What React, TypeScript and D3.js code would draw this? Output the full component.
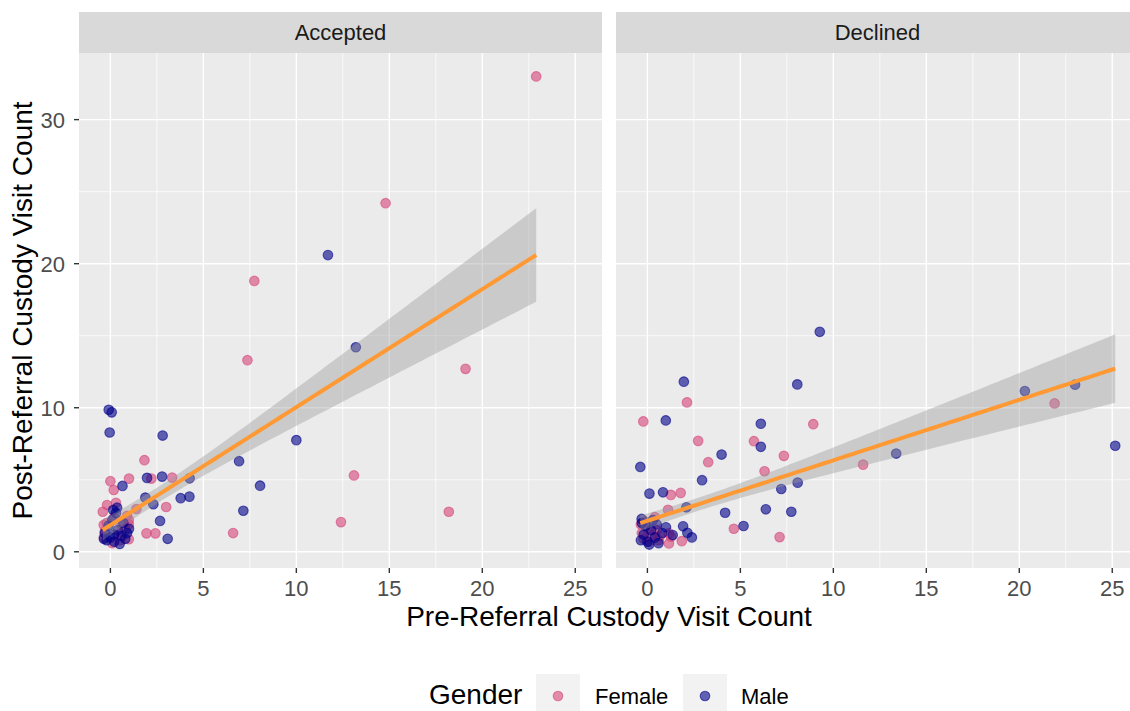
import React from "react";
import * as d3 from "d3";

// ---------------- DATA ----------------
const facets = ["Accepted", "Declined"];
const genders = ["Female", "Male"];

// Accepted – Female
const accFemaleX = [22.9, 14.8, 7.74, 7.37, 19.1, 13.1, 12.4, 18.2, 6.6, 1.83, 0.0, 1.0, 0.18, 2.2, 3.32, 3.0, 1.4, 1.94, 2.42, -0.18, -0.41, -0.36, 0.99, 0.99, 0.99, 0.54, -0.3, 0.2, -0.2, 0.4, 0.8, -0.35, 0.1, 0.9, 0.3, 0.6];
const accFemaleY = [33.0, 24.2, 18.8, 13.3, 12.7, 5.3, 2.06, 2.78, 1.3, 6.36, 4.9, 5.08, 4.29, 5.08, 5.15, 3.11, 2.97, 1.28, 1.28, 3.25, 2.78, 1.86, 2.2, 1.9, 0.87, 0.81, 1.4, 2.4, 2.0, 1.2, 1.6, 1.0, 0.6, 2.5, 3.4, 1.9];
// Accepted – Male
const accMaleX = [11.7, 13.2, 10.0, 6.92, 8.05, 7.15, -0.09, 0.07, -0.04, 2.81, 0.65, 1.97, 2.78, 4.26, 3.78, 4.25, 1.88, 2.31, 2.67, 3.08, 0.36, -0.3, -0.2, 0.0, 0.2, 0.4, 0.6, 0.8, 1.0, 0.1, 0.3, -0.1, 0.5, 0.9, 0.2, -0.35, 0.7, 0.15];
const accMaleY = [20.6, 14.2, 7.75, 6.29, 4.59, 2.85, 9.86, 9.68, 8.28, 8.07, 4.57, 5.13, 5.22, 5.1, 3.72, 3.83, 3.76, 3.3, 2.14, 0.9, 3.06, 1.3, 0.8, 1.0, 0.7, 1.5, 1.1, 0.9, 1.6, 2.2, 2.7, 1.8, 0.55, 1.3, 1.2, 0.9, 2.0, 2.9];
// Declined – Female
const decFemaleX = [21.9, 11.6, 2.13, -0.22, 8.92, 2.73, 5.73, 7.34, 3.27, 6.3, 1.26, 1.79, 1.11, 4.65, 7.11, 1.85, 1.16, 1.27, 0.68, -0.3, -0.2, 0.0, 0.1, 0.3, -0.1, 0.4, 0.2, 0.6, -0.35, 0.5, 1.16];
const decFemaleY = [10.3, 6.05, 10.37, 9.05, 8.86, 7.7, 7.68, 6.66, 6.22, 5.59, 3.95, 4.09, 2.92, 1.6, 1.02, 0.74, 0.58, 1.05, 1.09, 1.3, 0.9, 1.6, 0.7, 1.2, 2.1, 2.4, 1.0, 0.8, 1.9, 1.5, 1.28];
// Declined – Male
const decMaleX = [9.27, 1.96, 8.06, 0.99, 6.1, 6.1, 3.99, -0.38, 2.94, 8.08, 7.2, 0.11, 0.84, 2.1, 4.18, 6.37, 7.74, 5.17, 1.92, 2.15, 2.39, 1.36, 20.3, 23.0, 25.16, 13.38, -0.31, -0.3, -0.2, 0.0, 0.2, 0.4, 0.6, -0.1, 0.3, 0.8, 1.0, 0.5, -0.35, 0.1];
const decMaleY = [15.27, 11.81, 11.62, 9.12, 8.89, 7.29, 6.75, 5.89, 4.97, 4.8, 4.36, 4.04, 4.13, 3.09, 2.71, 2.95, 2.78, 1.79, 1.77, 1.32, 1.0, 1.16, 11.16, 11.6, 7.36, 6.82, 2.28, 2.0, 1.2, 0.7, 1.5, 1.0, 0.6, 1.8, 2.2, 1.3, 1.7, 1.9, 0.8, 0.5];

// linear fit per facet (intercept, slope) and CI half-width model
const fitIntercept = [1.85, 2.15];
const fitSlope = [0.819, 0.42];
const ciCenterX = [2.5, 2.5];
const ciMinHalf = [0.55, 0.45];
const ciGrowth = [0.157, 0.103];

const xTicks = [0, 5, 10, 15, 20, 25];
const xMinor = [2.5, 7.5, 12.5, 17.5, 22.5];
const yTicks = [0, 10, 20, 30];
const yMinor = [5, 15, 25];

// ---------------- LAYOUT ----------------
const W = 1130;
const H = 711;
const panelW = 523;
const panelX0 = [79, 616];
const panelTop = 53;
const panelBottom = 568;
const stripTop = 12;

const colors: Record<string, string> = { Female: "#d6457a", Male: "#00008b" };
const FONT = "'Liberation Sans', Arial, Helvetica, sans-serif";
const PT_R = 4.8;

const series = [
  { facet: 0, gender: "Female", xs: accFemaleX, ys: accFemaleY },
  { facet: 0, gender: "Male", xs: accMaleX, ys: accMaleY },
  { facet: 1, gender: "Female", xs: decFemaleX, ys: decFemaleY },
  { facet: 1, gender: "Male", xs: decMaleX, ys: decMaleY },
];

function expand(ext: [number, number]): [number, number] {
  const r = ext[1] - ext[0];
  return [ext[0] - 0.05 * r, ext[1] + 0.05 * r];
}

export default function App() {
  const allX = series.flatMap((s) => s.xs);
  const allY = series.flatMap((s) => s.ys);
  const xDom = expand(d3.extent(allX) as [number, number]);
  const yDom = expand(d3.extent(allY) as [number, number]);
  const y = d3.scaleLinear().domain(yDom).range([panelBottom, panelTop]);

  return (
    <svg width={W} height={H} style={{ display: "block", position: "absolute", left: 0, top: 0 }} fontFamily={FONT}>
      <rect x={0} y={0} width={W} height={H} fill="#ffffff" />
      {facets.map((name, fi) => {
        const x0 = panelX0[fi];
        const x = d3.scaleLinear().domain(xDom).range([x0, x0 + panelW]);
        const fx = series.filter((s) => s.facet === fi).flatMap((s) => s.xs);
        const [fmin, fmax] = d3.extent(fx) as [number, number];
        const grid = d3.range(0, 81).map((i) => fmin + ((fmax - fmin) * i) / 80);
        const fit = (v: number) => fitIntercept[fi] + fitSlope[fi] * v;
        const half = (v: number) =>
          Math.sqrt(ciMinHalf[fi] ** 2 + (ciGrowth[fi] * (v - ciCenterX[fi])) ** 2);
        const area = d3
          .area<number>()
          .x((v) => x(v))
          .y0((v) => y(fit(v) - half(v)))
          .y1((v) => y(fit(v) + half(v)));
        const line = d3
          .line<number>()
          .x((v) => x(v))
          .y((v) => y(fit(v)));
        const clipId = `clip${fi}`;
        return (
          <g key={name}>
            <defs>
              <clipPath id={clipId}>
                <rect x={x0} y={panelTop} width={panelW} height={panelBottom - panelTop} />
              </clipPath>
            </defs>
            <rect x={x0} y={stripTop} width={panelW} height={panelTop - stripTop} fill="#d9d9d9" />
            <text x={x0 + panelW / 2} y={(stripTop + panelTop) / 2} dy="0.36em" textAnchor="middle" fontSize={22} fill="#1a1a1a">
              {name}
            </text>
            <rect x={x0} y={panelTop} width={panelW} height={panelBottom - panelTop} fill="#ebebeb" />
            <g clipPath={`url(#${clipId})`}>
              {yMinor.map((t) => (
                <line key={"ym" + t} x1={x0} x2={x0 + panelW} y1={y(t)} y2={y(t)} stroke="#fff" strokeWidth={0.7} />
              ))}
              {xMinor.map((t) => (
                <line key={"xm" + t} x1={x(t)} x2={x(t)} y1={panelTop} y2={panelBottom} stroke="#fff" strokeWidth={0.7} />
              ))}
              {yTicks.map((t) => (
                <line key={"yM" + t} x1={x0} x2={x0 + panelW} y1={y(t)} y2={y(t)} stroke="#fff" strokeWidth={1.4} />
              ))}
              {xTicks.map((t) => (
                <line key={"xM" + t} x1={x(t)} x2={x(t)} y1={panelTop} y2={panelBottom} stroke="#fff" strokeWidth={1.4} />
              ))}
              {series
                .filter((s) => s.facet === fi)
                .map((s) =>
                  s.xs.map((xv, i) => (
                    <circle
                      key={s.gender + i}
                      cx={x(xv)}
                      cy={y(s.ys[i])}
                      r={PT_R}
                      fill={colors[s.gender]}
                      fillOpacity={0.6}
                      stroke={colors[s.gender]}
                      strokeOpacity={0.6}
                      strokeWidth={1.1}
                    />
                  ))
                )}
              <path d={area(grid) || ""} fill="#999999" fillOpacity={0.4} />
              <path d={line(grid) || ""} fill="none" stroke="#ff9933" strokeWidth={4} />
            </g>
            {xTicks.map((t) => (
              <g key={"xt" + t}>
                <line x1={x(t)} x2={x(t)} y1={panelBottom} y2={panelBottom + 5} stroke="#333333" strokeWidth={1.4} />
                <text x={x(t)} y={596} textAnchor="middle" fontSize={22} fill="#4d4d4d">
                  {t}
                </text>
              </g>
            ))}
            {fi === 0 &&
              yTicks.map((t) => (
                <g key={"yt" + t}>
                  <line x1={x0 - 5} x2={x0} y1={y(t)} y2={y(t)} stroke="#333333" strokeWidth={1.4} />
                  <text x={x0 - 14} y={y(t)} dy="0.36em" textAnchor="end" fontSize={22} fill="#4d4d4d">
                    {t}
                  </text>
                </g>
              ))}
          </g>
        );
      })}
      <text x={609} y={626} textAnchor="middle" fontSize={28} fill="#000">
        Pre-Referral Custody Visit Count
      </text>
      <text transform={`translate(32,${(panelTop + panelBottom) / 2}) rotate(-90)`} textAnchor="middle" fontSize={28} fill="#000">
        Post-Referral Custody Visit Count
      </text>
      {/* legend */}
      <text x={429} y={704} fontSize={28} fill="#000">
        Gender
      </text>
      {genders.map((g, i) => {
        const bx = [536, 683][i];
        const lx = [595, 741][i];
        return (
          <g key={g}>
            <rect x={bx} y={674} width={44} height={44} fill="#f2f2f2" />
            <circle cx={bx + 22} cy={696} r={PT_R} fill={colors[g]} fillOpacity={0.6} stroke={colors[g]} strokeOpacity={0.6} strokeWidth={1.1} />
            <text x={lx} y={704} fontSize={22} fill="#000">
              {g}
            </text>
          </g>
        );
      })}
    </svg>
  );
}
